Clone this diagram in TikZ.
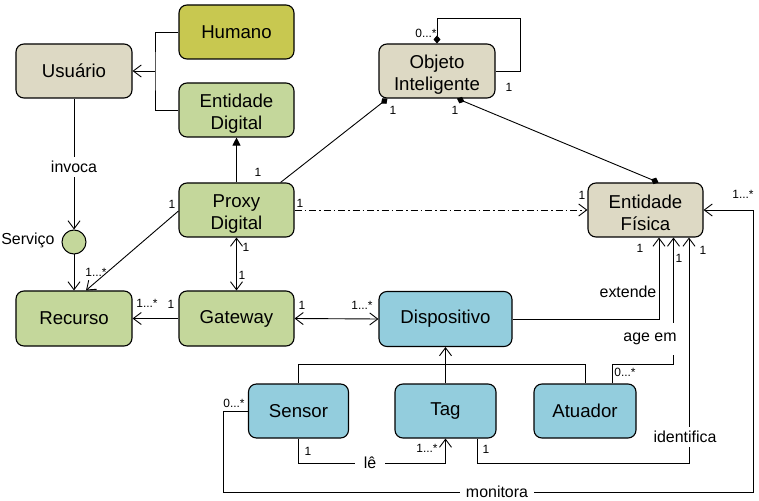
\documentclass[tikz,border=0pt]{standalone}
\usepackage{fontspec}
\setmainfont{Liberation Sans}
\usetikzlibrary{arrows.meta,calc}
\definecolor{beige}{HTML}{DDD9C4}
\definecolor{verde}{HTML}{C4D79B}
\definecolor{azul}{HTML}{93CDDD}
\definecolor{oliva}{HTML}{C8C850}
\newcommand\tstrut{\rule{0pt}{20bp}}
\tikzset{
  box/.style={draw=black, line width=1.1bp, rounded corners=8bp, align=center,
    font=\fontsize{18.7}{22}\selectfont, inner sep=0pt},
  wide/.style={minimum width=115bp, minimum height=54bp},
  lbl/.style={font=\fontsize{16}{18}\selectfont, fill=white, inner xsep=3bp, inner ysep=4bp},
  mult/.style={font=\fontsize{12}{14}\selectfont, inner sep=0pt},
  conn/.style={line width=0.9bp},
  open/.style={-{Straight Barb[length=8bp,width=12bp]}},
  bothopen/.style={{Straight Barb[length=8bp,width=12bp]}-{Straight Barb[length=8bp,width=12bp]}},
  tri/.style={-{Triangle[length=8bp,width=8bp]}},
  dia/.tip={Diamond[length=8bp,width=7bp]},
}
\begin{document}
\begin{tikzpicture}[x=1bp,y=-1bp]
\useasboundingbox[fill=white] (0,0) rectangle (759,501);
% nodes
\node[box,wide,fill=beige,minimum width=116bp] (usu) at (74,71) {Usuário};
\node[box,wide,fill=oliva] (hum) at (236.5,32) {Humano};
\node[box,wide,fill=verde] (edig) at (236.5,110) {\tstrut Entidade\\Digital};
\node[box,wide,fill=beige,minimum width=116bp] (obj) at (437,71) {\tstrut Objeto\\Inteligente};
\node[box,wide,fill=verde] (proxy) at (236.5,210) {\tstrut Proxy\\Digital};
\node[box,wide,fill=beige] (ef) at (645.5,210) {\tstrut Entidade\\Física};
\node[draw=black,line width=1bp,circle,fill=verde,minimum size=24bp,inner sep=0pt] (serv) at (74,242) {};
\node[font=\fontsize{16}{18}\selectfont,anchor=east] (servl) at (58,240) {Serviço};
\node[box,wide,fill=verde,minimum width=116bp,minimum height=55bp] (rec) at (74,318.5) {Recurso};
\node[box,wide,fill=verde,minimum height=55bp] (gw) at (236.5,318.5) {Gateway};
\node[box,fill=azul,minimum width=133bp,minimum height=55bp] (disp) at (445.5,319) {Dispositivo};
\node[box,fill=azul,minimum width=100bp,minimum height=54bp] (sensor) at (298.5,411) {Sensor};
\node[box,fill=azul,minimum width=101bp,minimum height=54bp] (tag) at (445.5,411) {Tag};
\node[box,fill=azul,minimum width=102bp,minimum height=54bp] (atu) at (585,411) {Atuador};
% helper coordinates
\coordinate (br) at (155,71);
\coordinate (mon) at (753,492);
% connectors
\draw[conn] (hum.west) -| (br) |- (edig.west);
\draw[conn,open] (br) -- (usu.east);
\draw[conn,tri] (proxy.north) -- (edig.south);
\draw[conn,-dia] ($(proxy.north east)+(-14,0)$) -- ($(obj.south west)+(9,0)$);
\draw[conn,dia-dia] ($(obj.south)+(20,0)$) -- ($(ef.north)+(13,0)$);
\draw[conn,dia-] (obj.north) -- ++(0,-25) -| ($(obj.east)+(25,0)$) -- (obj.east);
\draw[conn,open,dash pattern=on 7bp off 3bp on 1.5bp off 3bp] (proxy.east) -- (ef.west);
\draw[conn,open] ($(proxy.west)+(0,1)$) -- ($(rec.north)+(12,0)$);
\draw[conn,open] (usu.south) -- (serv.north);
\draw[conn,open] (serv.south) -- (rec.north);
\draw[conn,bothopen] (proxy.south) -- (gw.north);
\draw[conn,open] (gw.west) -- (rec.east);
\draw[conn,bothopen] (gw.east) -- (disp.west);
\draw[conn,open] (disp.east) -| ($(ef.south)+(13.5,0)$);
\draw[conn,open] ($(atu.north)+(27,0)$) -- ++(0,-19) -| ($(ef.south)+(28,0)$);
\draw[conn,open] ($(tag.south)+(31.5,0)$) -- ++(0,25) -| ($(ef.south)+(43.5,0)$);
\draw[conn,open] (sensor.south) -- ++(0,25) -| (tag.south);
\draw[conn] (sensor.north) -- ++(0,-19) -| (atu.north);
\draw[conn,open] (tag.north) -- (disp.south);
\draw[conn,open] (sensor.west) -- ++(-25,0) |- (mon) |- (ef.east);
% association labels
\node[lbl] (linvoca) at (74,167) {invoca};
\node[lbl,minimum height=32bp] (lext) at (628,292) {extende};
\node[lbl,minimum height=32bp] (lage) at (650,339) {age em};
\node[lbl,minimum height=20bp] (lid) at (685,437) {identifica};
\node[lbl,inner xsep=9bp] (lle) at (370,463) {lê};
\node[lbl,inner xsep=6bp] (lmon) at (497,492) {monitora};
% multiplicities
\node[mult] (m1) at (258,172) {1};
\node[mult] (m2) at (172,204) {1};
\node[mult] (m3) at (300,203) {1};
\node[mult] (m4) at (246,247) {1};
\node[mult] (m5) at (242,275) {1};
\node[mult] (m6) at (96,272) {1...*};
\node[mult] (m7) at (147,303) {1...*};
\node[mult] (m8) at (171,304) {1};
\node[mult] (m9) at (302,305) {1};
\node[mult] (m10) at (362,305) {1...*};
\node[mult] (m11) at (426,33) {0...*};
\node[mult] (m12) at (509,87) {1};
\node[mult] (m13) at (393,110) {1};
\node[mult] (m14) at (455,110) {1};
\node[mult] (m15) at (582,195) {1};
\node[mult] (m16) at (743,194) {1...*};
\node[mult] (m17) at (640,248) {1};
\node[mult] (m18) at (679,258) {1};
\node[mult] (m19) at (703,250) {1};
\node[mult] (m20) at (625,372) {0...*};
\node[mult] (m21) at (234,403) {0...*};
\node[mult] (m22) at (308,451) {1};
\node[mult] (m23) at (427,448) {1...*};
\node[mult] (m24) at (486,449) {1};
\end{tikzpicture}
\end{document}
